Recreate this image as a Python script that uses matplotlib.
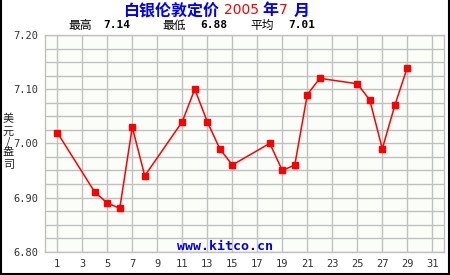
import matplotlib
matplotlib.use('Agg')
import matplotlib.pyplot as plt
from matplotlib.ticker import MultipleLocator

plt.rcParams['font.family'] = ['Noto Sans CJK SC', 'DejaVu Sans']

# Данные: дни июля 2005 и цена серебра (USD/oz)
days = [1, 4, 5, 6, 7, 8, 11, 12, 13, 14, 15, 18, 19, 20, 21, 22, 25, 26, 27, 28, 29]
prices = [7.02, 6.91, 6.89, 6.88, 7.03, 6.94, 7.04, 7.10, 7.04, 6.99, 6.96,
          7.00, 6.95, 6.96, 7.09, 7.12, 7.11, 7.08, 6.99, 7.07, 7.14]
x_ticks = list(range(1, 32, 2))
y_ticks = [6.80, 6.90, 7.00, 7.10, 7.20]
stats = [('最高', '7.14'), ('最低', '6.88'), ('平均', '7.01')]

W, H = 450, 275
fig = plt.figure(figsize=(W / 100, H / 100), dpi=100, facecolor='white')
ax = fig.add_axes([45 / W, 1 - 251.7 / H, (444.3 - 45) / W, (251.7 - 35) / H])
ax.set_facecolor('#fbfdf8')

ax.plot(days, prices, color='#ff0000', lw=1.1, marker='s', ms=4.2,
        mec='#ff0000', mfc='#ff0000', zorder=3)

ax.set_xlim(0.02, 31.96)
ax.set_ylim(6.80, 7.20)
ax.set_xticks(x_ticks)
ax.set_yticks(y_ticks)
ax.set_yticklabels([f'{v:.2f}' for v in y_ticks])
ax.yaxis.set_minor_locator(MultipleLocator(0.025))
ax.xaxis.grid(True, which='major', color='#c0c0c0', lw=1)
ax.yaxis.grid(True, which='both', color='#c0c0c0', lw=1)
ax.tick_params(which='both', length=0)
ax.tick_params(axis='both', labelsize=7.5, labelcolor='#333333', pad=5)
for lab in ax.get_xticklabels() + ax.get_yticklabels():
    lab.set_family('DejaVu Sans Mono')
for s in ax.spines.values():
    s.set_color('#c0c0c0')
    s.set_linewidth(1)

# Заголовок из цветных кусочков
def px(x, y):
    return x / W, 1 - y / H

title_parts = [('白银伦敦定价', 123, '#0000ff'), ('2005', 224, '#ff0000'),
               ('年', 262, '#0000ff'), ('7', 279, '#ff0000'), ('月', 294, '#0000ff')]
for txt, x0, col in title_parts:
    if txt.isdigit():
        fig.text(*px(x0, 10.5), txt, color=col, fontsize=10, family='DejaVu Sans',
                 ha='left', va='center')
    else:
        fig.text(*px(x0, 10.5), txt, color=col, fontsize=11.5, fontweight='bold',
                 family='Noto Sans CJK SC', ha='left', va='center')

stat_x = [(68, 103), (162, 200), (250, 288)]
for (name, val), (xn, xv) in zip(stats, stat_x):
    fig.text(*px(xn, 25), name, fontsize=8.5, color='black', ha='left', va='center')
    fig.text(*px(xv, 25), val, fontsize=8, color='black', fontweight='bold',
             family='DejaVu Sans Mono', ha='left', va='center')

# Подпись оси Y — иероглифы столбиком
for ch, yc in zip('美元/盎司', [118.5, 131.5, 141.5, 152.5, 165]):
    fig.text(*px(8.5, yc), ch, fontsize=8, ha='center', va='center', color='#222222')

fig.text(*px(225, 246), 'www.kitco.cn', color='#0000ff', fontsize=9.5,
         fontweight='bold', family='DejaVu Sans Mono', ha='center', va='center')

# Рамка картинки слева, справа и снизу
for coords in [([0.5 / W, 0.5 / W], [0, 1]), ([1 - 1 / W, 1 - 1 / W], [0, 1]),
               ([0, 1], [1.5 / H, 1.5 / H])]:
    fig.add_artist(plt.Line2D(*coords, color='black', lw=1.5))

fig.savefig('out.png', dpi=100, facecolor='white')
